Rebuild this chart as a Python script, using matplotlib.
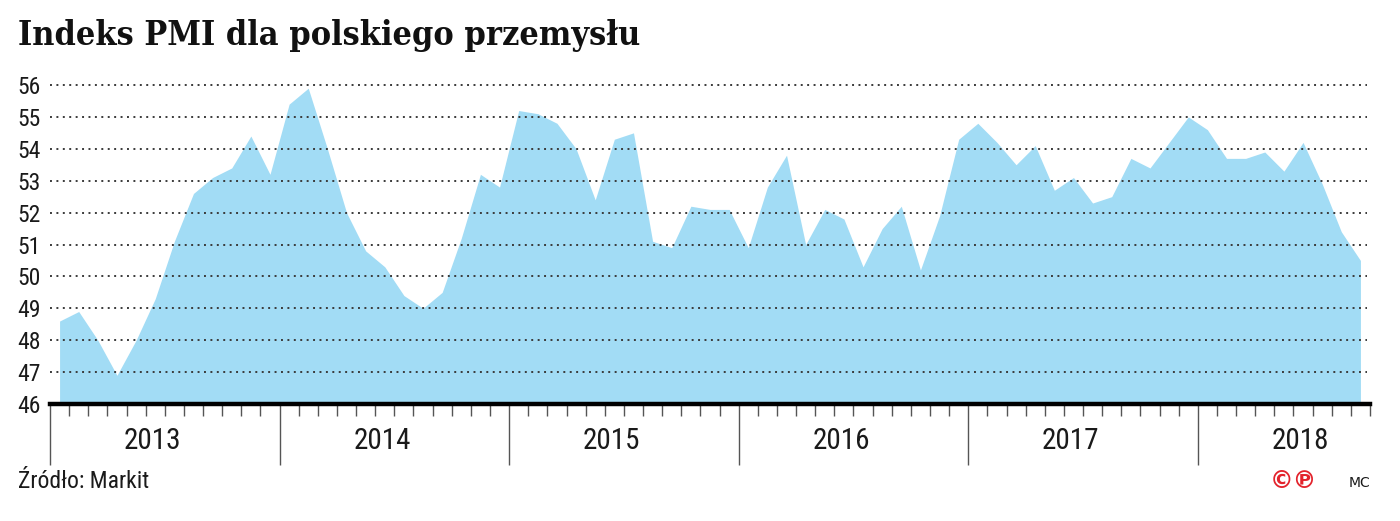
# -*- coding: utf-8 -*-
"""Indeks PMI dla polskiego przemysłu, 2013-01 .. 2018-09 (Markit)."""

import numpy as np
import matplotlib
matplotlib.use("Agg")
import matplotlib.pyplot as plt
import matplotlib.transforms as mtransforms
from matplotlib import font_manager

ZAINSTALOWANE = {f.name for f in font_manager.fontManager.ttflist}
KANDYDACI = ["Liberation Sans Narrow", "Roboto Condensed", "Open Sans Condensed",
             "DejaVu Sans Condensed", "Roboto"]
FONT_WASKI = next((f for f in KANDYDACI if f in ZAINSTALOWANE), "DejaVu Sans")

KOLOR_WYPELNIENIA = "#a2dcf5"
KOLOR_KROPEK = "#3a3a3a"
KOLOR_ZNAKU = "#e3232c"

LATA = [2013, 2014, 2015, 2016, 2017, 2018]
POZIOMY_Y = [46, 47, 48, 49, 50, 51, 52, 53, 54, 55, 56]

# miesięczne odczyty PMI (od stycznia 2013 do września 2018)
PMI_2013 = [48.6, 48.9, 48.0, 46.9, 48.0, 49.3, 51.1, 52.6, 53.1, 53.4, 54.4, 53.2]
PMI_2014 = [55.4, 55.9, 54.0, 52.0, 50.8, 50.3, 49.4, 49.0, 49.5, 51.2, 53.2, 52.8]
PMI_2015 = [55.2, 55.1, 54.8, 54.0, 52.4, 54.3, 54.5, 51.1, 50.9, 52.2, 52.1, 52.1]
PMI_2016 = [50.9, 52.8, 53.8, 51.0, 52.1, 51.8, 50.3, 51.5, 52.2, 50.2, 51.9, 54.3]
PMI_2017 = [54.8, 54.2, 53.5, 54.1, 52.7, 53.1, 52.3, 52.5, 53.7, 53.4, 54.2, 55.0]
PMI_2018 = [54.6, 53.7, 53.7, 53.9, 53.3, 54.2, 52.9, 51.4, 50.5]

pmi = np.array(PMI_2013 + PMI_2014 + PMI_2015 + PMI_2016 + PMI_2017 + PMI_2018)
n = len(pmi)
x = np.arange(n) + 0.5          # środek miesiąca

W, H = 1400, 521
fig = plt.figure(figsize=(W / 100, H / 100), dpi=100, facecolor="white")
ax = fig.add_axes([50 / W, (H - 404) / H, 1320 / W, 319 / H])

ax.fill_between(x, pmi, POZIOMY_Y[0], color=KOLOR_WYPELNIENIA, linewidth=0, zorder=1)

# kropkowane linie siatki
ax.hlines(POZIOMY_Y[1:], 0, n - 0.15, colors=KOLOR_KROPEK, linewidth=1.4,
          linestyles=(0, (1, 2.3)), zorder=2, clip_on=False)
# gruba oś pozioma
ax.axhline(POZIOMY_Y[0], color="black", linewidth=3.2, zorder=3, clip_on=False)

ax.set_xlim(0, n)
ax.set_ylim(POZIOMY_Y[0], POZIOMY_Y[-1])
for s in ax.spines.values():
    s.set_visible(False)

ax.set_xticks([12 * i for i in range(len(LATA))])
ax.set_xticks([m for m in range(n + 1) if m % 12], minor=True)
ax.tick_params(axis="x", which="major", length=44, width=1, color="#555555",
               labelbottom=False, direction="out")
ax.tick_params(axis="x", which="minor", length=8.5, width=1, color="#555555",
               direction="out")
ax.set_yticks(POZIOMY_Y)
ax.tick_params(axis="y", length=0, pad=7)
ax.set_yticklabels([str(v) for v in POZIOMY_Y], fontsize=17, family=FONT_WASKI,
                   color="#1a1a1a")

tr = mtransforms.blended_transform_factory(ax.transData, ax.transAxes)
for i, rok in enumerate(LATA):
    ax.text(12 * i + 5.35, -0.115, str(rok), transform=tr, ha="center", va="center",
            fontsize=21, family=FONT_WASKI, color="#1a1a1a")

fig.text(18 / W, 1 - 36 / H, "Indeks PMI dla polskiego przemysłu", ha="left", va="center",
         fontsize=24.5, fontweight="bold", family="DejaVu Serif", fontstretch="condensed",
         color="#111111")
fig.text(18 / W, 1 - 481 / H, "Źródło: Markit", ha="left", va="center",
         fontsize=17, family=FONT_WASKI, color="#1a1a1a")
fig.text(1293 / W, 1 - 481 / H, "©℗", ha="center", va="center", fontsize=17,
         fontweight="bold", family="DejaVu Sans", color=KOLOR_ZNAKU)
fig.text(1359 / W, 1 - 483 / H, "MC", ha="center", va="center", fontsize=10,
         family="DejaVu Sans", color="#1a1a1a")

fig.savefig("out.png", dpi=100, facecolor="white")
